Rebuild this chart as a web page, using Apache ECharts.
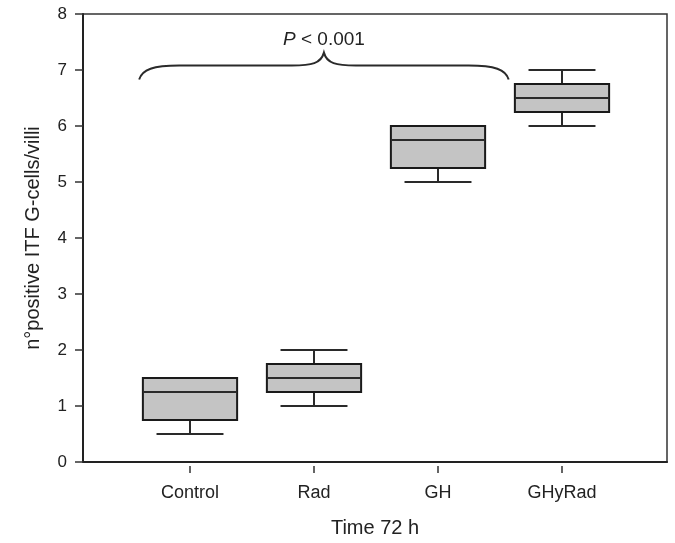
<!DOCTYPE html>
<html><head><meta charset="utf-8">
<script src="https://cdn.jsdelivr.net/npm/echarts@6/dist/echarts.min.js"></script>
<style>html,body{margin:0;padding:0;background:#fff}#c{width:675px;height:543px}</style>
</head><body><div id="c"></div>
<script>
// ---- data ----
const categories = ['Control', 'Rad', 'GH', 'GHyRad'];
const whiskerLow  = [0.5, 1.0, 5.0, 6.0];
const q1          = [0.75, 1.25, 5.25, 6.25];
const median      = [1.25, 1.5, 5.75, 6.5];
const q3          = [1.5, 1.75, 6.0, 6.75];
const whiskerHigh = [1.5, 2.0, 6.0, 7.0];
const yTickValues = [0, 1, 2, 3, 4, 5, 6, 7, 8];
const yTitle = 'n°positive ITF G-cells/villi';
const xTitle = 'Time 72 h';
// significance brace (x in category-index units, y in data units)
const braceX = [-0.41, 1.08, 2.57];     // left end, peak, right end
const braceY = [6.83, 7.08, 7.31, 7.54]; // ends, arms, peak, label
const pText = ['P', ' < 0.001'];

// ---- chart ----
const chart = echarts.init(document.getElementById('c'), null, {renderer: 'canvas'});
const FONT = 'Liberation Sans, Arial, sans-serif';
const boxData = categories.map((c, i) => [i, whiskerLow[i], q1[i], median[i], q3[i], whiskerHigh[i]]);

function renderBox(params, api) {
  const i = api.value(0);
  const unit = api.size([1, 0])[0];
  const hb = unit * 0.38, hw = unit * 0.27;
  const pLow = api.coord([i, api.value(1)]);
  const pQ1 = api.coord([i, api.value(2)]);
  const pMed = api.coord([i, api.value(3)]);
  const pQ3 = api.coord([i, api.value(4)]);
  const pHigh = api.coord([i, api.value(5)]);
  const x = pQ1[0];
  const ls = {stroke: '#2a2a2a', lineWidth: 2};
  return {
    type: 'group',
    children: [
      {type: 'line', shape: {x1: x, y1: pQ3[1], x2: x, y2: pHigh[1]}, style: ls},
      {type: 'line', shape: {x1: x, y1: pQ1[1], x2: x, y2: pLow[1]}, style: ls},
      {type: 'line', shape: {x1: x - hw, y1: pHigh[1], x2: x + hw, y2: pHigh[1]}, style: ls},
      {type: 'line', shape: {x1: x - hw, y1: pLow[1], x2: x + hw, y2: pLow[1]}, style: ls},
      {type: 'rect', shape: {x: x - hb, y: pQ3[1], width: 2 * hb, height: pQ1[1] - pQ3[1]},
        style: {fill: '#c4c4c4', stroke: '#1a1a1a', lineWidth: 2}},
      {type: 'line', shape: {x1: x - hb, y1: pMed[1], x2: x + hb, y2: pMed[1]}, style: ls}
    ]
  };
}

function renderBrace(params, api) {
  const L = api.coord([api.value(0), api.value(3)]);
  const P = api.coord([api.value(1), api.value(5)]);
  const R = api.coord([api.value(2), api.value(3)]);
  const yA = api.coord([api.value(1), api.value(4)])[1];
  const T = api.coord([api.value(1), api.value(6)]);
  const d = 'M' + L[0] + ',' + L[1] +
    ' C' + (L[0] + 3) + ',' + (yA + 4) + ' ' + (L[0] + 14) + ',' + yA + ' ' + (L[0] + 40) + ',' + yA +
    ' L' + (P[0] - 32) + ',' + yA +
    ' C' + (P[0] - 12) + ',' + yA + ' ' + (P[0] - 3) + ',' + (yA - 2) + ' ' + P[0] + ',' + P[1] +
    ' C' + (P[0] + 3) + ',' + (yA - 2) + ' ' + (P[0] + 12) + ',' + yA + ' ' + (P[0] + 32) + ',' + yA +
    ' L' + (R[0] - 40) + ',' + yA +
    ' C' + (R[0] - 14) + ',' + yA + ' ' + (R[0] - 3) + ',' + (yA + 4) + ' ' + R[0] + ',' + R[1];
  return {
    type: 'group',
    children: [
      {type: 'path', shape: {pathData: d}, style: {fill: null, stroke: '#2a2a2a', lineWidth: 2}},
      {type: 'text', x: T[0], y: T[1], style: {
        text: '{i|' + pText[0] + '}{n|' + pText[1] + '}',
        align: 'center', verticalAlign: 'middle',
        rich: {
          i: {fontFamily: FONT, fontSize: 19, fontStyle: 'italic', fill: '#222'},
          n: {fontFamily: FONT, fontSize: 19, fill: '#222'}
        }
      }}
    ]
  };
}

const plotLeft = 83, plotRight = 667, plotTop = 14, plotBottom = 466;
const firstCenter = 190, band = 124;
const xMinIdx = (plotLeft - firstCenter) / band;
const xMaxIdx = (plotRight - firstCenter) / band;

chart.setOption({
  backgroundColor: '#fff',
  animation: false,
  textStyle: {fontFamily: FONT},
  grid: [
    {left: plotLeft, right: 675 - plotRight, top: plotTop, bottom: 543 - plotBottom,
      show: true, borderColor: '#333', borderWidth: 1.5, backgroundColor: 'transparent'},
    {left: firstCenter - band / 2, right: 675 - (firstCenter + band * (categories.length - 0.5)),
      top: plotTop, bottom: 543 - plotBottom, show: false}
  ],
  xAxis: [
    {gridIndex: 0, type: 'value', min: xMinIdx, max: xMaxIdx,
      axisLine: {show: true, onZero: false, lineStyle: {color: '#222', width: 2}},
      axisTick: {show: false}, axisLabel: {show: false}, splitLine: {show: false},
      name: xTitle, nameLocation: 'middle', nameGap: 56,
      nameTextStyle: {fontSize: 20, color: '#222', fontFamily: FONT}},
    {gridIndex: 1, type: 'category', data: categories,
      axisLine: {show: false},
      axisTick: {show: true, alignWithLabel: true, length: 7, lineStyle: {color: '#333', width: 1.5}},
      axisLabel: {fontSize: 18, color: '#222', margin: 18, fontFamily: FONT},
      splitLine: {show: false}}
  ],
  yAxis: [
    {gridIndex: 0, type: 'value', min: yTickValues[0], max: yTickValues[yTickValues.length - 1], interval: 1,
      axisLine: {show: true, onZero: false, lineStyle: {color: '#222', width: 2}},
      axisTick: {show: true, length: 8, lineStyle: {color: '#333', width: 1.5}},
      axisLabel: {fontSize: 17, color: '#222', margin: 16, fontFamily: FONT},
      splitLine: {show: false},
      name: yTitle, nameLocation: 'middle', nameGap: 40, nameRotate: 90,
      nameTextStyle: {fontSize: 20, color: '#222', fontFamily: FONT}},
    {gridIndex: 1, type: 'value', min: 0, max: 8, show: false}
  ],
  series: [
    {type: 'custom', xAxisIndex: 0, yAxisIndex: 0, data: boxData, renderItem: renderBox, clip: false},
    {type: 'custom', xAxisIndex: 0, yAxisIndex: 0,
      data: [[braceX[0], braceX[1], braceX[2], braceY[0], braceY[1], braceY[2], braceY[3]]],
      renderItem: renderBrace, clip: false}
  ]
});
</script></body></html>
